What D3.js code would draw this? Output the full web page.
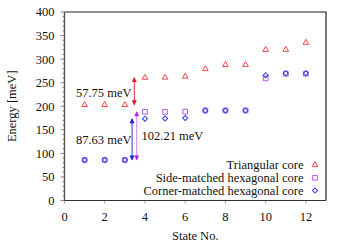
<!DOCTYPE html>
<meta charset="utf-8" />
<style>
  html, body { margin: 0; padding: 0; background: #fff; }
  svg text { font-family: "Liberation Serif", "DejaVu Serif", serif; }
</style>
<script src="https://d3js.org/d3.v7.min.js"></script>
<div id="chart"></div>
<script>
  // data
  const states = [1, 2, 3, 4, 5, 6, 7, 8, 9, 10, 11, 12];
  const triangular = [203, 203, 203, 260.75, 261, 263, 279, 288, 288, 320, 320, 335];
  const sideMatched = [86, 86, 86, 188.2, 188, 188.5, 191, 191, 191, 259, 269, 269];
  const cornerMatched = [86, 86, 86, 173.6, 174, 175, 191, 191, 191, 266, 270, 270];
  const xTicks = [0, 2, 4, 6, 8, 10, 12];
  const yTicks = [0, 50, 100, 150, 200, 250, 300, 350, 400];
  const seriesNames = ['Triangular core', 'Side-matched hexagonal core', 'Corner-matched hexagonal core'];
  // energy gaps: [label, x position, from, to]
  const gaps = [
    ['57.75 meV', 3.47, 203, 260.75],
    ['87.63 meV', 3.36, 86, 173.63],
    ['102.21 meV', 3.59, 86, 188.21],
  ];

  const W = 349, H = 244;
  const margin = { top: 12, right: 23, bottom: 43.5, left: 64.5 };

  const svg = d3.select('#chart').append('svg')
    .attr('width', W).attr('height', H);

  const x = d3.scaleLinear().domain([0, 13]).range([margin.left, W - margin.right]);
  const y = d3.scaleLinear().domain([0, 400]).range([H - margin.bottom, margin.top]);

  const colors = ['#f04848', '#b45ae8', '#3a3ae0'];
  const arrowColors = ['#e01818', '#1a1ad8', '#c020d8'];

  // frame (top + right)
  svg.append('path')
    .attr('d', `M${x(0)},${y(400)}H${x(13)}V${y(0)}`)
    .attr('fill', 'none').attr('stroke', '#222').attr('stroke-width', 1.2);

  // y axis with minor ticks
  const yAxis = svg.append('g').attr('transform', `translate(${x(0)},0)`);
  yAxis.selectAll('line.minor').data(d3.range(0, 401, 10)).join('line')
    .attr('x1', (d) => (d % 50 === 0 ? -4 : -2)).attr('x2', 0)
    .attr('y1', (d) => y(d)).attr('y2', (d) => y(d))
    .attr('stroke', '#666').attr('stroke-width', 0.8);
  yAxis.append('line').attr('y1', y(0)).attr('y2', y(400))
    .attr('stroke', '#555').attr('stroke-width', 1.4);
  yAxis.selectAll('text').data(yTicks).join('text')
    .attr('x', -10).attr('y', (d) => y(d)).attr('dy', '0.35em')
    .attr('text-anchor', 'end').attr('font-size', 12.5).attr('fill', '#111')
    .text((d) => d);

  // x axis
  const xAxis = svg.append('g').attr('transform', `translate(0,${y(0)})`);
  xAxis.selectAll('line').data(xTicks).join('line')
    .attr('x1', (d) => x(d)).attr('x2', (d) => x(d)).attr('y1', 0).attr('y2', 3)
    .attr('stroke', '#888').attr('stroke-width', 0.8);
  xAxis.append('line').attr('x1', x(0)).attr('x2', x(13))
    .attr('stroke', '#333').attr('stroke-width', 1.2);
  xAxis.selectAll('text').data(xTicks).join('text')
    .attr('x', (d) => x(d)).attr('y', 20)
    .attr('text-anchor', 'middle').attr('font-size', 12.5).attr('fill', '#111')
    .text((d) => d);

  // axis titles
  svg.append('text').attr('x', (x(0) + x(13)) / 2).attr('y', 240)
    .attr('text-anchor', 'middle').attr('font-size', 12.5).attr('fill', '#111')
    .text('State No.');
  svg.append('text')
    .attr('transform', `translate(16,${(y(0) + y(400)) / 2}) rotate(-90)`)
    .attr('text-anchor', 'middle').attr('font-size', 12.5).attr('fill', '#111')
    .text('Energy [meV]');

  // markers (small open symbols)
  const tri = d3.symbol().type(d3.symbolTriangle).size(14);
  const sq = d3.symbol().type(d3.symbolSquare).size(22);
  const dia = d3.symbol().type(d3.symbolSquare).size(13);
  const shapes = [tri, sq, dia];
  const rot = [0, 0, 45];
  const series = [triangular, sideMatched, cornerMatched];

  series.forEach((vals, i) => {
    svg.append('g').selectAll('path').data(states).join('path')
      .attr('transform', (d, j) => `translate(${x(d)},${y(vals[j])}) rotate(${rot[i]})`)
      .attr('d', shapes[i]())
      .attr('fill', 'none').attr('stroke', colors[i]).attr('stroke-width', 1);
  });

  // gap arrows
  const defs = svg.append('defs');
  arrowColors.forEach((c, i) => {
    defs.append('marker').attr('id', 'ah' + i)
      .attr('viewBox', '0 0 10 10').attr('refX', 9).attr('refY', 5)
      .attr('markerWidth', 6).attr('markerHeight', 5)
      .attr('orient', 'auto-start-reverse').attr('markerUnits', 'userSpaceOnUse')
      .append('path').attr('d', 'M0,0L10,5L0,10Z').attr('fill', c);
  });
  gaps.forEach((g, i) => {
    svg.append('line')
      .attr('x1', x(g[1])).attr('x2', x(g[1]))
      .attr('y1', y(g[2])).attr('y2', y(g[3]))
      .attr('stroke', i === 2 ? '#d070e0' : arrowColors[i]).attr('stroke-width', 0.9)
      .attr('marker-start', `url(#ah${i})`).attr('marker-end', `url(#ah${i})`);
  });
  svg.append('text').attr('x', 131.5).attr('y', 97)
    .attr('text-anchor', 'end').attr('font-size', 12.5).attr('fill', '#111').text(gaps[0][0]);
  svg.append('text').attr('x', 131.5).attr('y', 143.5)
    .attr('text-anchor', 'end').attr('font-size', 12.5).attr('fill', '#111').text(gaps[1][0]);
  svg.append('text').attr('x', 141.5).attr('y', 139.5)
    .attr('text-anchor', 'start').attr('font-size', 12.5).attr('fill', '#111').text(gaps[2][0]);

  // legend
  const legend = svg.append('g');
  seriesNames.forEach((name, i) => {
    const ly = 165 + i * 12.8;
    legend.append('text').attr('x', 303.5).attr('y', ly).attr('dy', '0.35em')
      .attr('text-anchor', 'end').attr('font-size', 12.5).attr('fill', '#111').text(name);
    legend.append('path').attr('transform', `translate(315,${ly}) rotate(${rot[i]})`)
      .attr('d', shapes[i]())
      .attr('fill', 'none').attr('stroke', colors[i]).attr('stroke-width', 1);
  });
</script>
